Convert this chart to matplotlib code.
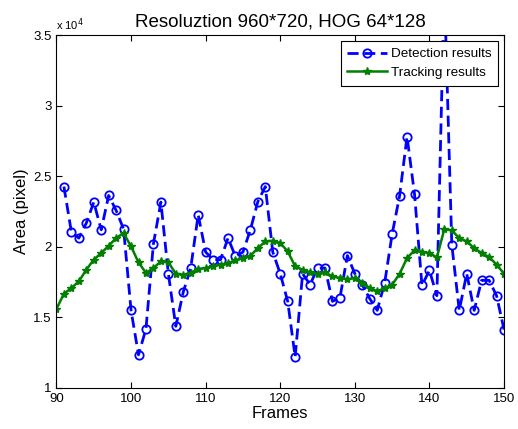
import matplotlib
matplotlib.use("Agg")
import matplotlib.pyplot as plt
from matplotlib.ticker import FuncFormatter

plt.rcParams['font.family'] = ['Liberation Sans', 'DejaVu Sans']

# Detected bounding-box area per frame (pixels)
det_frames = list(range(91, 151))
det_area = [24270, 21050, 20620, 21680, 23170, 21210, 23640, 22580, 21260, 15500,
            12350, 14190, 20220, 23170, 18100, 14370, 16800, 18500, 22270, 19630,
            19090, 19090, 20620, 19320, 19630, 21210, 23210, 24270, 19630, 18100,
            16140, 12210, 18100, 17320, 18500, 18500, 16140, 16380, 19380, 18100,
            17300, 16330, 15500, 17440, 20900, 23610, 27810, 23750, 17270, 18330,
            16540, 38500, 20150, 15500, 18100, 15500, 17630, 17630, 16540, 14140]

# Tracked bounding-box area per frame (pixels)
trk_frames = list(range(90, 151))
trk_area = [15600, 16680, 17080, 17550, 18380, 19090, 19560, 20080, 20620, 20980,
            20030, 18900, 18150, 18500, 18970, 18900, 18100, 18030, 18150, 18430,
            18500, 18620, 18740, 18850, 19040, 19210, 19370, 19910, 20380, 20430,
            20270, 19680, 18620, 18380, 18190, 18100, 18190, 17910, 17790, 17700,
            17790, 17440, 17080, 16850, 17080, 17320, 18080, 19210, 19750, 19630,
            19560, 19250, 21260, 21160, 20620, 20380, 19910, 19560, 19280, 18740,
            18100]

x_ticks = [90, 100, 110, 120, 130, 140, 150]
y_ticks = [10000, 15000, 20000, 25000, 30000, 35000]

fig = plt.figure(figsize=(5.18, 4.29), dpi=100)
ax = fig.add_axes([0.109, 0.0956, 0.864, 0.8225])

ax.plot(det_frames, det_area, color='#0000ff', linestyle=(0, (4, 2)), linewidth=2,
        marker='o', markersize=6, markerfacecolor='none', markeredgecolor='#0000ff',
        markeredgewidth=1.3, label='Detection results')
ax.plot(trk_frames, trk_area, color='#007f00', linestyle='-', linewidth=1.8,
        marker='*', markersize=6, markerfacecolor='#007f00', markeredgecolor='#007f00',
        label='Tracking results')

ax.set_xlim(90, 150)
ax.set_ylim(10000, 35000)
ax.set_xticks(x_ticks)
ax.set_yticks(y_ticks)
ax.yaxis.set_major_formatter(FuncFormatter(lambda v, p: f"{v / 1e4:g}"))
ax.tick_params(direction='in', top=True, right=True, labelsize=9.5, length=4)
for s in ax.spines.values():
    s.set_linewidth(0.8)

ax.text(0.0, 1.005, r'x 10$^{4}$', transform=ax.transAxes, fontsize=8,
        ha='left', va='bottom')
ax.set_title('Resoluztion 960*720, HOG 64*128', fontsize=13.5, pad=6)
ax.set_xlabel('Frames', fontsize=12, labelpad=1)
ax.set_ylabel('Area (pixel)', fontsize=12, labelpad=3)

leg = ax.legend(loc='upper right', fontsize=9.7, fancybox=False, framealpha=1,
                edgecolor='black', handlelength=2.9, borderaxespad=0.45,
                borderpad=0.5, labelspacing=0.45, handletextpad=0.3)
leg.get_frame().set_linewidth(0.8)

fig.savefig('out.png', dpi=100)
